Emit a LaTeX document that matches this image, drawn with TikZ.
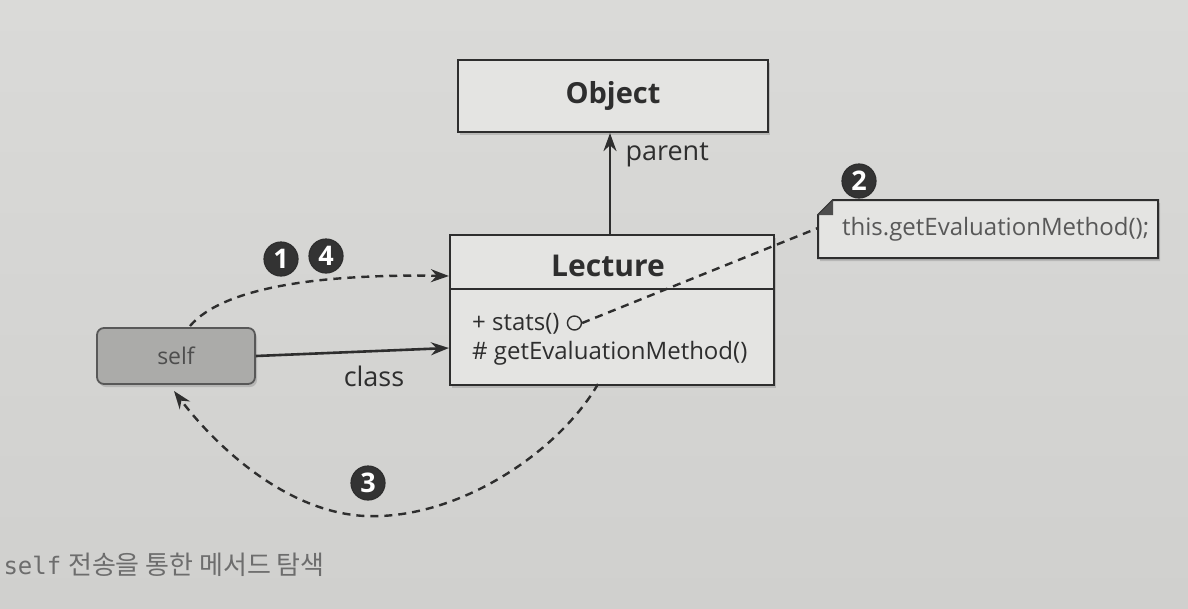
\documentclass[tikz,border=0pt]{standalone}
\usepackage{fontspec}
\setmainfont{Open Sans}
\newfontfamily\cjk{Noto Sans CJK KR}
\newfontfamily\monof{DejaVu Sans Mono}
\usetikzlibrary{arrows.meta,shadows,calc}
\definecolor{bgtop}{HTML}{DADAD8}
\definecolor{bgbot}{HTML}{D0D0CE}
\definecolor{boxfill}{HTML}{E4E4E2}
\definecolor{selffill}{HTML}{ABABA9}
\definecolor{ink}{HTML}{2E2E2E}
\definecolor{numfill}{HTML}{333333}
\tikzset{
  umlbox/.style={draw=ink, line width=2.2pt, fill=boxfill, drop shadow={shadow xshift=2pt,shadow yshift=-3pt,opacity=0.35}},
  selfbox/.style={draw=ink!80, line width=1.8pt, fill=selffill, rounded corners=7pt, drop shadow={shadow xshift=2pt,shadow yshift=-3pt,opacity=0.35}},
  numc/.style={circle, fill=numfill, draw=ink, line width=1.2pt, text=white, inner sep=0pt, minimum size=34pt, font=\fontsize{27}{27}\selectfont\bfseries},
  link/.style={draw=ink, line width=2.6pt},
  dlink/.style={draw=ink, line width=2.4pt, dash pattern=on 8pt off 6pt},
  tip/.style={-{Stealth[length=18pt,width=13pt]}},
  lbl/.style={text=ink, font=\fontsize{27}{27}\selectfont},
}
\begin{document}
\begin{tikzpicture}[x=1pt,y=-1pt]
\shade[top color=bgtop, bottom color=bgbot] (0,0) rectangle (1188,608);
\useasboundingbox (0,0) rectangle (1188,608);

% Object
\node[umlbox, minimum width=310pt, minimum height=72pt, font=\fontsize{29}{29}\selectfont\bfseries, text=ink] (obj) at (613,96) {Object};

% Lecture
\node[umlbox, minimum width=324pt, minimum height=150pt] (lec) at (612,310) {};
\draw[ink, line width=2pt] (450,289) -- (774,289);
\node[font=\fontsize{30}{30}\selectfont\bfseries, text=ink] (lectitle) at (608,266) {Lecture};
\node[lbl, anchor=west, font=\fontsize{24}{24}\selectfont, inner sep=0pt] (stats) at (472,324) {+ stats()};
\node[circle, draw=ink, line width=1.4pt, inner sep=0pt, minimum size=14pt, anchor=west] (sdot) at ($(stats.east)+(7,-1)$) {};
\node[lbl, anchor=west, font=\fontsize{24}{24}\selectfont, inner sep=0pt] (gem) at (472,353) {\# getEvaluationMethod()};

% parent arrow
\draw[link, tip] (lec.north -| 610,0) -- (obj.south -| 610,0);
\node[lbl, anchor=west] (parentlbl) at (622,155) {parent};

% self
\node[selfbox, minimum width=158pt, minimum height=56pt, font=\fontsize{23}{23}\selectfont, text=ink!85] (self) at (176,356) {self};

% class arrow
\draw[link, tip] (self.east) -- (lec.west |- 0,348);
\node[lbl] (classlbl) at (374,376) {class};

% 1 4 dashed arrow
\draw[dlink, tip] (190,326) .. controls (225,285) and (330,274) .. (lec.west |- 0,276);
\node[numc] (n1) at (281,259) {1};
\node[numc] (n4) at (326,256) {4};

% note
\coordinate (fold) at (818,228);
\path[fill=boxfill, draw=ink, line width=2pt, drop shadow={shadow xshift=2pt,shadow yshift=-3pt,opacity=0.35}]
  (833,200) -- (1158,200) -- (1158,258) -- (818,258) -- (818,215) -- cycle;
\fill[ink!85] (818,215) -- (833,200) -- (833,215) -- cycle;
\node[font=\fontsize{24}{24}\selectfont, text=ink!80, anchor=west, inner sep=0pt] (note) at (842,229) {this.getEvaluationMethod();};
\node[numc] (n2) at (859,181) {2};

% dashed to note
\draw[dlink] (sdot.east) -- (fold);

% 3 dashed arrow
\draw[dlink, tip] (598,384) .. controls (560,450) and (460,520) .. (365,516) .. controls (285,512) and (215,445) .. (174,391);
\node[numc] (n3) at (368,483) {3};

% caption
\node[anchor=west, text=ink!70, font=\fontsize{26}{26}\selectfont] (cap) at (0,565) {{\monof\fontsize{24}{24}\selectfont self} {\cjk 전송을 통한 메서드 탐색}};
\end{tikzpicture}
\end{document}
